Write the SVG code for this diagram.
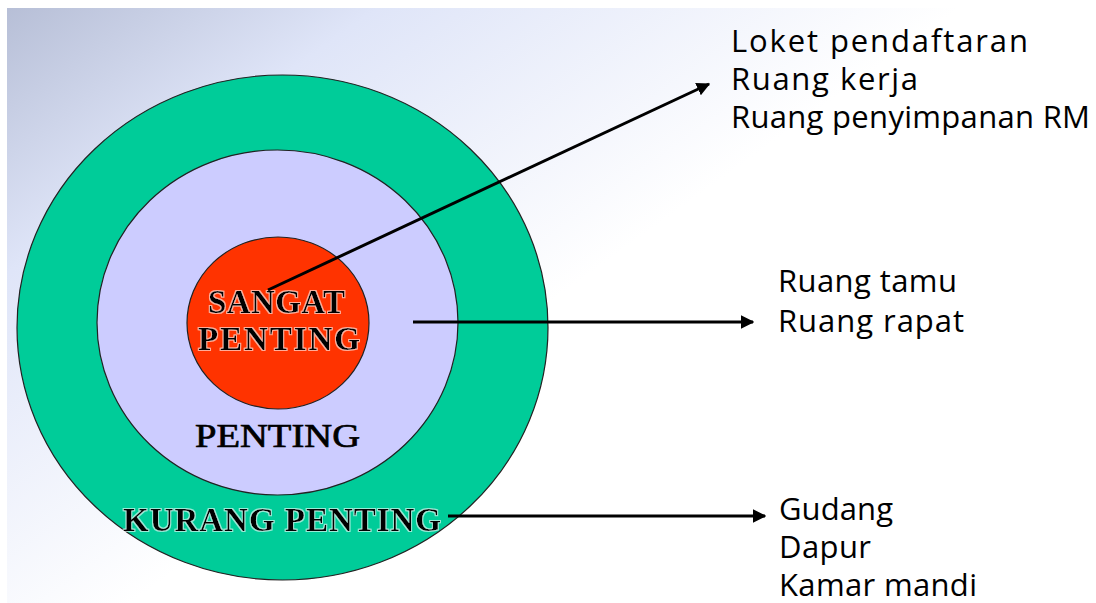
<svg xmlns="http://www.w3.org/2000/svg" width="1096" height="603" viewBox="0 0 1096 603">
<defs>
<linearGradient id="bg" gradientUnits="userSpaceOnUse" x1="0" y1="0" x2="330" y2="460">
<stop offset="0" stop-color="#b5bdd5"/>
<stop offset="0.4" stop-color="#dfe5f8"/>
<stop offset="1" stop-color="#ffffff"/>
</linearGradient>
<marker id="ah" viewBox="0 0 10 10" refX="9" refY="5" markerWidth="4.5" markerHeight="4.5" orient="auto" markerUnits="strokeWidth">
<path d="M0,0 L10,5 L0,10 Z" fill="#000"/>
</marker>
<filter id="glow" x="-10%" y="-30%" width="120%" height="160%">
<feMorphology in="SourceAlpha" operator="dilate" radius="1.1" result="d"/>
<feFlood flood-color="#ffffff" flood-opacity="0.6"/>
<feComposite in2="d" operator="in" result="w"/>
<feMerge><feMergeNode in="w"/><feMergeNode in="SourceGraphic"/></feMerge>
</filter>
</defs>
<style>
.lbl{font-family:"Liberation Serif","Times New Roman",serif;font-weight:bold;font-size:33px;fill:#000;text-anchor:middle}
.item{font-family:"Open Sans","DejaVu Sans",sans-serif;font-size:31px;fill:#000}
.ring{stroke:#222;stroke-width:1.2}
.conn{stroke:#000;stroke-width:3;fill:none;marker-end:url(#ah)}
</style>
<rect x="0" y="0" width="1096" height="603" fill="#ffffff"/>
<rect x="7" y="8" width="1089" height="595" fill="url(#bg)"/>
<g id="kurang-penting">
<ellipse class="ring" cx="282.5" cy="327.5" rx="265.5" ry="252.5" fill="#00cc99"/>
</g>
<g id="penting">
<ellipse class="ring" cx="277.5" cy="322.5" rx="180.5" ry="172.5" fill="#ccccff"/>
<text class="lbl" x="277.5" y="447" textLength="165" lengthAdjust="spacingAndGlyphs" style="font-size:33px;font-weight:normal;stroke:#000;stroke-width:0.7">PENTING</text>
</g>
<g id="sangat-penting">
<ellipse class="ring" cx="278" cy="323" rx="91" ry="86" fill="#ff3300"/>
<text class="lbl" x="276.5" y="313" textLength="137" lengthAdjust="spacing" filter="url(#glow)">SANGAT</text>
<text class="lbl" x="279" y="350" textLength="162" lengthAdjust="spacing" filter="url(#glow)">PENTING</text>
</g>
<g id="kurang-label">
<text class="lbl" x="282" y="531" textLength="318" lengthAdjust="spacing" filter="url(#glow)">KURANG PENTING</text>
</g>
<g id="connectors">
<line class="conn" x1="268" y1="290" x2="709" y2="84"/>
<line class="conn" x1="413" y1="322" x2="753" y2="322"/>
<line class="conn" x1="448" y1="516" x2="765" y2="516"/>
</g>
<g id="list-sangat">
<text class="item" x="731" y="52" textLength="297" lengthAdjust="spacing">Loket pendaftaran</text>
<text class="item" x="731" y="90" textLength="187" lengthAdjust="spacing">Ruang kerja</text>
<text class="item" x="731" y="128" textLength="359" lengthAdjust="spacing">Ruang penyimpanan RM</text>
</g>
<g id="list-penting">
<text class="item" x="778" y="292" textLength="179" lengthAdjust="spacing">Ruang tamu</text>
<text class="item" x="778" y="332" textLength="186" lengthAdjust="spacing">Ruang rapat</text>
</g>
<g id="list-kurang">
<text class="item" x="779" y="520" textLength="114" lengthAdjust="spacing">Gudang</text>
<text class="item" x="779" y="558" textLength="92" lengthAdjust="spacing">Dapur</text>
<text class="item" x="779" y="596" textLength="198" lengthAdjust="spacing">Kamar mandi</text>
</g>
</svg>
